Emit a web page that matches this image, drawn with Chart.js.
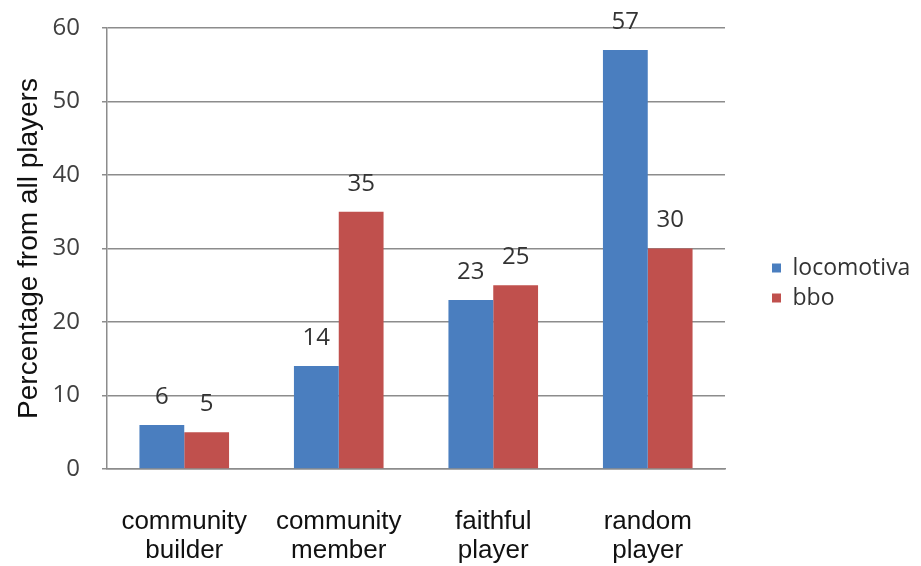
<!DOCTYPE html>
<html>
<head>
<meta charset="utf-8">
<script src="https://cdn.jsdelivr.net/npm/chart.js@4/dist/chart.umd.min.js"></script>
<style>
  html, body { margin: 0; padding: 0; background: #fff; }
  #wrap { width: 921px; height: 566px; }
</style>
</head>
<body>
<div id="wrap"><canvas id="chart" width="921" height="566"></canvas></div>
<script>
const categories = [['community', 'builder'], ['community', 'member'], ['faithful', 'player'], ['random', 'player']];
const locomotiva = [6, 14, 23, 57];
const bbo = [5, 35, 25, 30];
const yTicks = [0, 10, 20, 30, 40, 50, 60];

// values written above each bar
const valueLabels = {
    id: 'valueLabels',
    afterDatasetsDraw(chart) {
        const ctx = chart.ctx;
        ctx.save();
        ctx.font = '24px "Open Sans", sans-serif';
        ctx.fillStyle = '#333';
        ctx.textAlign = 'center';
        ctx.textBaseline = 'middle';
        chart.data.datasets.forEach((ds, i) => {
            chart.getDatasetMeta(i).data.forEach((bar, j) => {
                ctx.fillText(ds.data[j], bar.x, bar.y - 28);
            });
        });
        ctx.restore();
    }
};

new Chart(document.getElementById('chart').getContext('2d'), {
    type: 'bar',
    data: {
        labels: categories,
        datasets: [
            { label: 'locomotiva', data: locomotiva, backgroundColor: '#4a7ebf' },
            { label: 'bbo', data: bbo, backgroundColor: '#c0504d' }
        ]
    },
    options: {
        responsive: false,
        animation: false,
        devicePixelRatio: 1,
        categoryPercentage: 0.58,
        barPercentage: 1,
        layout: { padding: { top: 0, bottom: 0, right: 5, left: 10 } },
        plugins: {
            legend: {
                position: 'right',
                align: 'center',
                labels: {
                    boxWidth: 9,
                    boxHeight: 9,
                    padding: 7,
                    color: '#333',
                    font: { family: '"Open Sans", sans-serif', size: 23 }
                }
            },
            tooltip: { enabled: false }
        },
        scales: {
            x: {
                grid: { display: false },
                border: { display: true, color: '#8c8c8c', width: 1.5 },
                ticks: {
                    color: '#111',
                    padding: 30,
                    maxRotation: 0,
                    font: { family: '"Liberation Sans", Arial, sans-serif', size: 26, lineHeight: 1.12 }
                },
                afterFit(scale) { scale.height = 97; }
            },
            y: {
                min: 0,
                max: 60,
                afterBuildTicks(scale) { scale.ticks = yTicks.map(v => ({ value: v })); },
                grid: { color: '#8c8c8c', lineWidth: 1.5, tickLength: 5 },
                border: { display: true, color: '#8c8c8c', width: 1.5 },
                ticks: {
                    color: '#404040',
                    padding: 22,
                    font: { family: '"Open Sans", sans-serif', size: 24 }
                },
                title: {
                    display: true,
                    text: 'Percentage from all players',
                    color: '#111',
                    padding: { top: 2, bottom: 0 },
                    font: { family: '"Liberation Sans", Arial, sans-serif', size: 28 }
                },
                afterFit(scale) {
                    scale.width = 97;
                    scale.paddingTop = 28;
                }
            },
            // empty axis on the right, only keeps a gap before the legend
            gap: {
                type: 'linear',
                position: 'right',
                grid: { display: false },
                border: { display: false },
                ticks: { display: false },
                afterFit(scale) { scale.width = 40; }
            }
        }
    },
    plugins: [valueLabels]
});
</script>
</body>
</html>
